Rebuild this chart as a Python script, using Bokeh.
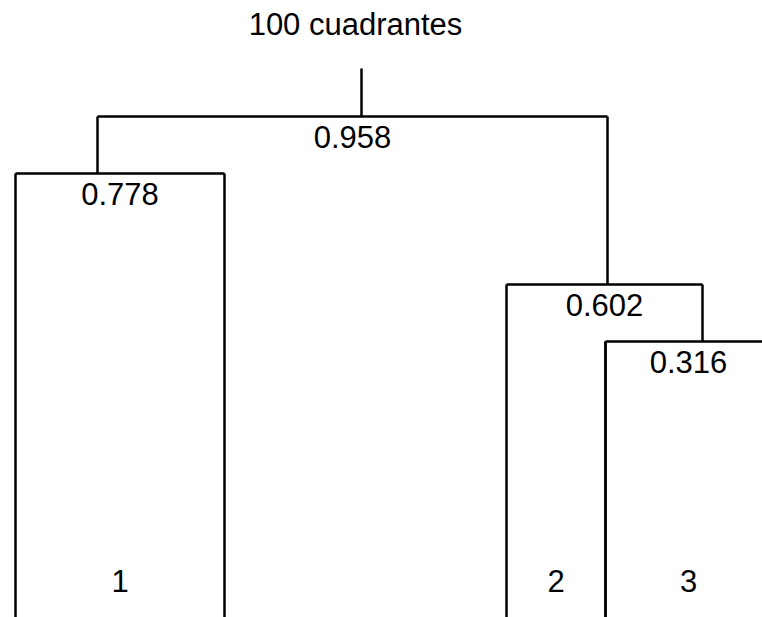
from bokeh.plotting import figure
from bokeh.models import ColumnDataSource, Range1d
from bokeh.core.properties import value
from bokeh.embed import file_html
from bokeh.resources import INLINE

# ---- data (tree layout in abstract units) ----
title_text = "100 cuadrantes"
node_labels = ["0.958", "0.778", "0.602", "0.316"]
node_heights = [5.00, 4.43, 3.32, 2.75]
node_left = [0.97, 0.15, 5.06, 6.05]
node_right = [6.07, 2.24, 7.02, 7.71]
node_stem_x = [3.61, 0.97, 6.07, 7.02]
node_parent = [-1, 0, 0, 2]
root_top = 5.48

leaf_labels = ["1", "2", "3"]
leaf_left = [0.15, 5.06, 6.05]
leaf_right = [2.24, 6.05, 7.71]
leaf_top_left = [4.43, 3.32, 2.75]
leaf_top_right = [4.43, 2.75, 2.75]

FONT = "Liberation Sans"
FS = "31px"

p = figure(width=762, height=617, output_backend="svg", toolbar_location=None,
           x_range=Range1d(0.0, 7.62), y_range=Range1d(-0.01, 6.16),
           min_border=0, min_border_left=0, min_border_right=0,
           min_border_top=0, min_border_bottom=0)
p.axis.visible = False
p.grid.visible = False
p.outline_line_color = None
p.background_fill_color = "white"
p.border_fill_color = "white"

x0, y0, x1, y1 = [], [], [], []
# node horizontals and stems
for i in range(len(node_labels)):
    h = node_heights[i]
    x0.append(node_left[i]); x1.append(node_right[i]); y0.append(h); y1.append(h)
    top = root_top if node_parent[i] < 0 else node_heights[node_parent[i]]
    x0.append(node_stem_x[i]); x1.append(node_stem_x[i]); y0.append(h); y1.append(top)
# leaf verticals
for i in range(len(leaf_labels)):
    x0.append(leaf_left[i]); x1.append(leaf_left[i]); y0.append(leaf_top_left[i]); y1.append(-1.0)
    x0.append(leaf_right[i]); x1.append(leaf_right[i]); y0.append(leaf_top_right[i]); y1.append(-1.0)

seg = ColumnDataSource(dict(x0=x0, y0=y0, x1=x1, y1=y1))
p.segment(x0="x0", y0="y0", x1="x1", y1="y1", source=seg,
          line_color="black", line_width=2.5)

# node value labels, centered under each horizontal
lab = ColumnDataSource(dict(
    x=[(a + b) / 2 for a, b in zip(node_left, node_right)],
    y=[h - 0.20 for h in node_heights],
    t=node_labels))
p.text(x="x", y="y", text="t", source=lab, text_align="center",
       text_baseline="alphabetic", text_font=value(FONT), text_font_size=FS,
       text_color="black")

# leaf labels
leaf = ColumnDataSource(dict(
    x=[(a + b) / 2 for a, b in zip(leaf_left, leaf_right)],
    y=[0.36] * len(leaf_labels),
    t=leaf_labels))
p.text(x="x", y="y", text="t", source=leaf, text_align="center",
       text_baseline="alphabetic", text_font=value(FONT), text_font_size=FS,
       text_color="black")

# title
ttl = ColumnDataSource(dict(x=[3.55], y=[5.92], t=[title_text]))
p.text(x="x", y="y", text="t", source=ttl, text_align="center",
       text_baseline="alphabetic", text_font=value(FONT), text_font_size=FS,
       text_color="black")

open("out.html", "w").write(file_html(p, INLINE))
